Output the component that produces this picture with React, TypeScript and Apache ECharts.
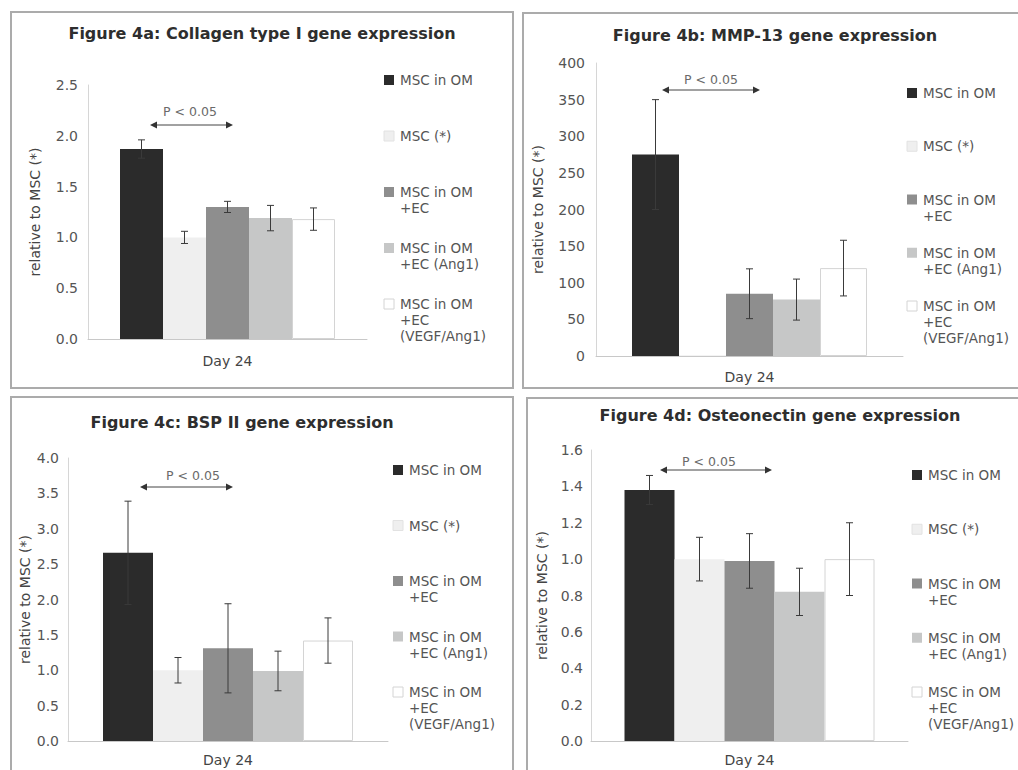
import React, { useEffect, useRef } from 'react';
import * as echarts from 'echarts';

// ---------- data ----------
const categories = ['Day 24'];
const seriesNames = [
  'MSC in OM',
  'MSC (*)',
  'MSC in OM\n+EC',
  'MSC in OM\n+EC (Ang1)',
  'MSC in OM\n+EC\n(VEGF/Ang1)',
];
const panelTitles = [
  'Figure 4a: Collagen type I gene expression',
  'Figure 4b: MMP-13 gene expression',
  'Figure 4c: BSP II gene expression',
  'Figure 4d: Osteonectin gene expression',
];
const yAxisName = 'relative to MSC (*)';
const pLabel = 'P < 0.05';

const collagenMeans = [1.87, 1.0, 1.3, 1.19, 1.18];
const collagenErrors = [0.09, 0.06, 0.055, 0.125, 0.11];
const mmp13Means = [275, 1, 85, 77, 120];
const mmp13Errors = [75, 0, 34, 28, 38];
const bspMeans = [2.66, 1.0, 1.31, 0.99, 1.42];
const bspErrors = [0.73, 0.18, 0.63, 0.28, 0.32];
const osteoMeans = [1.38, 1.0, 0.99, 0.82, 1.0];
const osteoErrors = [0.08, 0.12, 0.15, 0.13, 0.2];

const collagenAxis = { max: 2.5, interval: 0.5, decimals: 1 };
const mmp13Axis = { max: 400, interval: 50, decimals: 0 };
const bspAxis = { max: 4.0, interval: 0.5, decimals: 1 };
const osteoAxis = { max: 1.6, interval: 0.2, decimals: 1 };

// ---------- styles ----------
const FONT = '"DejaVu Sans", Verdana, sans-serif';
const barColors = ['#2b2b2b', '#efefef', '#8e8e8e', '#c6c7c7', '#ffffff'];
const barBorders = ['#2b2b2b', '#e2e2e2', '#8e8e8e', '#c6c7c7', '#d4d4d4'];
const LH = 16;

const layouts = [
  {
    grid: { left: 88, top: 85, width: 279, height: 254 },
    barW: 43, nameGap: 46, labelMargin: 10, catMargin: 15,
    border: [11, 12, 502, 376], title: [262, 33],
    legend: { left: 384, c: 80, spacing: 56 },
    arrow: [150, 233, 125], pText: [190, 111],
  },
  {
    grid: { left: 596, top: 63, width: 307, height: 293 },
    barW: 47, nameGap: 51, labelMargin: 11, catMargin: 14,
    border: [523, 13, 510, 375], title: [775, 35],
    legend: { left: 907, c: 93, spacing: 53.25 },
    arrow: [662, 760, 90], pText: [711, 79],
  },
  {
    grid: { left: 68, top: 458, width: 320, height: 283 },
    barW: 50, nameGap: 36, labelMargin: 9, catMargin: 12,
    border: [11, 397, 502, 390], title: [242, 422],
    legend: { left: 393, c: 470, spacing: 55.5 },
    arrow: [140, 233, 487], pText: [193, 475],
  },
  {
    grid: { left: 591, top: 450, width: 317, height: 291 },
    barW: 50, nameGap: 42, labelMargin: 8, catMargin: 12,
    border: [527, 398, 510, 390], title: [780, 415],
    legend: { left: 912, c: 475, spacing: 54.25 },
    arrow: [660, 772, 470], pText: [709, 461],
  },
];

const panelData = [
  { means: collagenMeans, errors: collagenErrors, axis: collagenAxis },
  { means: mmp13Means, errors: mmp13Errors, axis: mmp13Axis },
  { means: bspMeans, errors: bspErrors, axis: bspAxis },
  { means: osteoMeans, errors: osteoErrors, axis: osteoAxis },
];

function buildOption() {
  const grid: any[] = [];
  const xAxis: any[] = [];
  const yAxis: any[] = [];
  const series: any[] = [];
  const graphic: any[] = [];

  panelData.forEach((pd, p) => {
    const L = layouts[p];
    grid.push({ ...L.grid, containLabel: false });
    xAxis.push({
      type: 'category',
      gridIndex: p,
      data: categories,
      axisLine: { lineStyle: { color: '#c8c8c8', width: 1 } },
      axisTick: { show: false },
      axisLabel: { color: '#444', fontFamily: FONT, fontSize: 14, margin: L.catMargin },
      splitLine: { show: false },
    });
    yAxis.push({
      type: 'value',
      gridIndex: p,
      min: 0,
      max: pd.axis.max,
      interval: pd.axis.interval,
      name: yAxisName,
      nameLocation: 'middle',
      nameRotate: 90,
      nameGap: L.nameGap,
      nameTextStyle: { color: '#444', fontFamily: FONT, fontSize: 14 },
      axisLine: { show: true, lineStyle: { color: '#d6d6d6', width: 1 } },
      axisTick: { show: false },
      splitLine: { show: false },
      axisLabel: {
        color: '#555',
        fontFamily: FONT,
        fontSize: 14,
        margin: L.labelMargin,
        formatter: (v: number) => v.toFixed(pd.axis.decimals),
      },
    });

    seriesNames.forEach((name, i) => {
      series.push({
        type: 'bar',
        name,
        xAxisIndex: p,
        yAxisIndex: p,
        data: [pd.means[i]],
        barWidth: L.barW,
        barGap: '0%',
        itemStyle: { color: barColors[i], borderColor: barBorders[i], borderWidth: i === 4 ? 1 : 0 },
        z: 2,
      });
    });

    const barW = L.barW;
    series.push({
      type: 'custom',
      name: 'error' + p,
      xAxisIndex: p,
      yAxisIndex: p,
      z: 5,
      encode: { x: 0, y: 1 },
      data: pd.means.map((m, i) => [0, m, pd.errors[i], i]),
      renderItem: (params: any, api: any) => {
        const mean = api.value(1);
        const err = api.value(2);
        const idx = api.value(3);
        if (!err) return { type: 'group', children: [] };
        const c = api.coord([api.value(0), mean]);
        const x = c[0] + (idx - 2) * barW;
        const yt = api.coord([api.value(0), mean + err])[1];
        const yb = api.coord([api.value(0), Math.max(0, mean - err)])[1];
        const st = { stroke: '#3a3a3a', lineWidth: 1 };
        const cap = 3.5;
        return {
          type: 'group',
          children: [
            { type: 'line', shape: { x1: x, y1: yt, x2: x, y2: yb }, style: st },
            { type: 'line', shape: { x1: x - cap, y1: yt, x2: x + cap, y2: yt }, style: st },
            { type: 'line', shape: { x1: x - cap, y1: yb, x2: x + cap, y2: yb }, style: st },
          ],
        };
      },
    });

    // legend (swatch + label, first line aligned with swatch)
    seriesNames.forEach((name, i) => {
      const cy = L.legend.c + i * L.legend.spacing;
      graphic.push({
        type: 'rect',
        shape: { x: L.legend.left, y: cy - 5, width: 10, height: 10 },
        style: { fill: barColors[i], stroke: i === 0 || i === 2 || i === 3 ? 'none' : barBorders[i], lineWidth: 1 },
      });
      graphic.push({
        type: 'text',
        x: L.legend.left + 16,
        y: cy - LH / 2,
        style: {
          text: name,
          fontFamily: FONT,
          fontSize: 13.5,
          lineHeight: LH,
          fill: '#555',
          align: 'left',
          verticalAlign: 'top',
        },
      });
    });

    // panel border
    graphic.push({
      type: 'rect',
      shape: { x: L.border[0], y: L.border[1], width: L.border[2], height: L.border[3] },
      style: { fill: 'none', stroke: '#ababab', lineWidth: 2 },
      z: 0,
    });
    // title
    graphic.push({
      type: 'text',
      x: L.title[0],
      y: L.title[1],
      style: {
        text: panelTitles[p],
        fontFamily: FONT,
        fontSize: 16,
        fontWeight: 'bold',
        fill: '#2e2e2e',
        align: 'center',
        verticalAlign: 'middle',
      },
    });
    // significance arrow
    const [ax1, ax2, ay] = L.arrow;
    graphic.push({
      type: 'line',
      shape: { x1: ax1 + 4, y1: ay, x2: ax2 - 4, y2: ay },
      style: { stroke: '#444', lineWidth: 1 },
    });
    graphic.push({
      type: 'polygon',
      shape: { points: [[ax1, ay], [ax1 + 7, ay - 3.5], [ax1 + 7, ay + 3.5]] },
      style: { fill: '#333' },
    });
    graphic.push({
      type: 'polygon',
      shape: { points: [[ax2, ay], [ax2 - 7, ay - 3.5], [ax2 - 7, ay + 3.5]] },
      style: { fill: '#333' },
    });
    graphic.push({
      type: 'text',
      x: L.pText[0],
      y: L.pText[1],
      style: {
        text: pLabel,
        fontFamily: FONT,
        fontSize: 12.5,
        fill: '#6a6a6a',
        align: 'center',
        verticalAlign: 'middle',
      },
    });
  });

  return {
    animation: false,
    backgroundColor: '#ffffff',
    textStyle: { fontFamily: FONT },
    grid,
    xAxis,
    yAxis,
    series,
    graphic,
  };
}

export default function App() {
  const ref = useRef<HTMLDivElement>(null);
  useEffect(() => {
    if (!ref.current) return;
    const chart = echarts.init(ref.current, undefined, { renderer: 'svg' });
    chart.setOption(buildOption() as any);
    return () => chart.dispose();
  }, []);
  return (
    <div
      ref={ref}
      style={{ position: 'absolute', left: 0, top: 0, width: 1018, height: 770, background: '#fff' }}
    />
  );
}
